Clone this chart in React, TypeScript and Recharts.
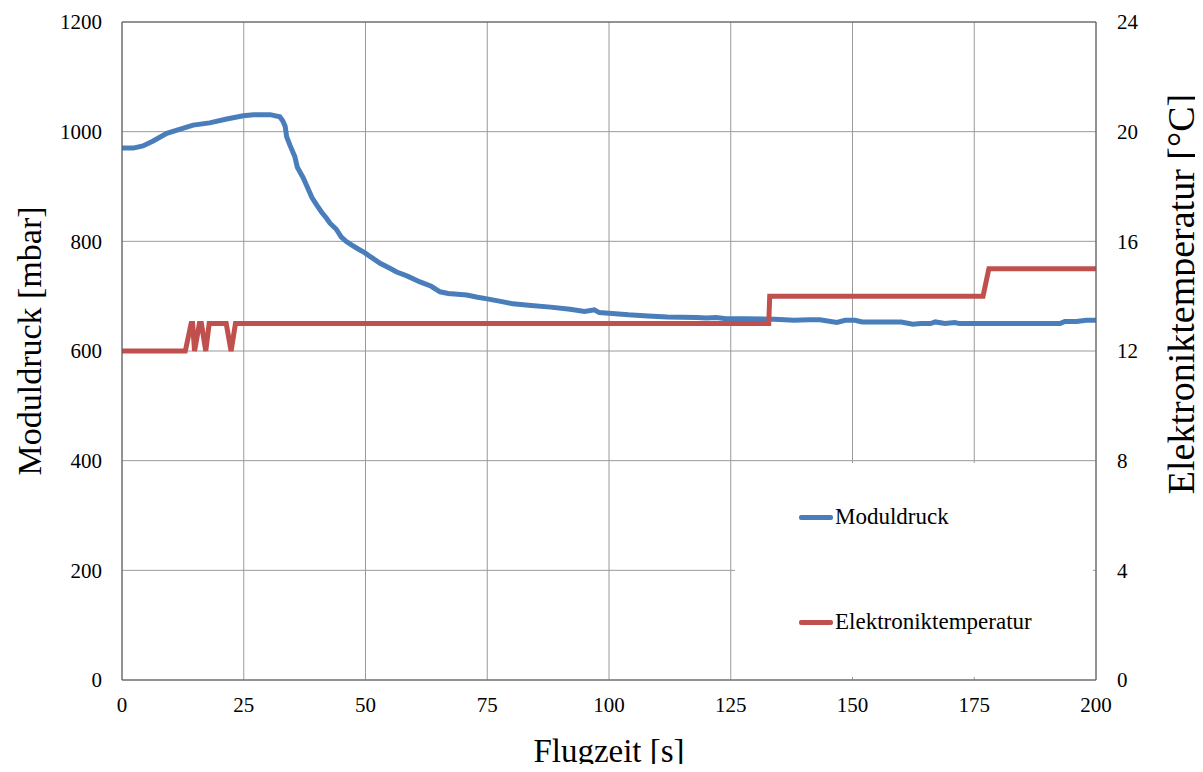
import { ComposedChart, Line, XAxis, YAxis, CartesianGrid, Legend, ReferenceLine, Label } from 'recharts';

// Moduldruck [mbar] over flight time [s]
const druckZeit = [
  0, 2.3, 4.3, 6.4, 9.2, 11.3, 14.6, 18, 21.5, 24.9, 27, 30.4, 32.4, 33, 33.5, 33.8, 34.5, 35.5, 36, 37.2,
  38, 39, 40, 41, 42, 42.7, 44, 45, 46, 47.2, 48.5, 49.9, 51, 53, 55, 56.4, 58.5, 61.2, 63.5, 65.3, 67,
  70.8, 73, 75, 78, 80.3, 84, 88, 92, 95, 97, 98, 100, 104, 108, 112, 118, 120, 122, 124, 128, 134, 138,
  141, 143.3, 146.8, 148.5, 150.5, 152, 160, 162.4, 164, 166, 167, 169, 171, 172, 180, 186, 192.6, 193.6,
  196, 198, 200,
];
const druckWerte = [
  970, 970, 974, 983, 997, 1003, 1012, 1016, 1023, 1029, 1031, 1031, 1027, 1020, 1010, 991, 975, 954, 935, 916,
  900, 880, 866, 853, 842, 833, 822, 808, 800, 793, 786, 779, 772, 760, 751, 744, 737, 726, 718, 708, 705,
  702, 698, 695, 690, 686, 683, 680, 676, 672, 675, 670, 669, 666, 664, 662, 661, 660, 661, 659, 659, 658, 656,
  657, 657, 652, 656, 656, 653, 653, 649, 650, 650, 653, 650, 652, 650, 650, 650, 650, 654,
  654, 656, 656,
];

// Elektroniktemperatur [°C]
const tempZeit = [0, 13.0, 14.2, 14.5, 14.9, 15.9, 16.3, 17.2, 17.9, 21.4, 22.4, 23.3, 132.8, 133.0, 176.8, 178.0, 200];
const tempWerte = [12, 12, 13, 13, 12, 13, 13, 12, 13, 13, 12, 13, 13, 14, 14, 15, 15];

const xTicks = [0, 25, 50, 75, 100, 125, 150, 175, 200];
const druckTicks = [0, 200, 400, 600, 800, 1000, 1200];
const tempTicks = [0, 4, 8, 12, 16, 20, 24];

const druckData = druckZeit.map((t, i) => ({ t, druck: druckWerte[i] }));
const tempData = tempZeit.map((t, i) => ({ t, temp: tempWerte[i] }));

const BLUE = '#4A7EBB';
const RED = '#C0504D';
const FRAME = '#595959';
const GRID = '#9a9a9a';
const FONT = 'Liberation Serif, Times New Roman, serif';

// tick renderer so the serif font really gets applied
const makeTick = (anchor: 'start' | 'middle' | 'end', dy: string) => (props: any) => {
  const { x, y, payload } = props;
  return (
    <g>
      <text
        x={x}
        y={y}
        dy={dy}
        textAnchor={anchor}
        fontFamily="Liberation Serif"
        fontSize={21}
        fill="#000"
        style={{ fontFamily: 'Liberation Serif', fontSize: 21 }}
      >
        {String(payload.value)}
      </text>
    </g>
  );
};

function LegendBox() {
  const items = [
    { name: 'Moduldruck', color: BLUE, top: 54 },
    { name: 'Elektroniktemperatur', color: RED, top: 159 },
  ];
  return (
    <div style={{ position: 'relative', width: '100%', height: '100%', background: '#fff' }}>
      {items.map(it => (
        <div
          key={it.name}
          style={{ position: 'absolute', left: 64, top: it.top - 15, height: 30, display: 'flex', alignItems: 'center' }}
        >
          <span style={{ display: 'inline-block', width: 34, height: 5, borderRadius: 2, background: it.color }} />
          <span style={{ fontFamily: FONT, fontSize: 23, color: '#000', marginLeft: 2 }}>{it.name}</span>
        </div>
      ))}
    </div>
  );
}

const yTitle = (text: string, cx: number, cy: number, size: number) => (
  <text
    x={cx}
    y={cy}
    transform={`rotate(-90 ${cx} ${cy})`}
    textAnchor="middle"
    dominantBaseline="central"
    style={{ fontFamily: FONT, fontSize: size, fill: '#000' }}
  >
    {text}
  </text>
);

export default function App() {
  return (
    <div style={{ margin: -8, width: 1203, height: 772, fontFamily: FONT }}>
      <ComposedChart
        width={1203}
        height={772}
        margin={{ top: 22, right: 27, left: 42, bottom: 0 }}
        style={{ fontFamily: FONT }}
      >
        <CartesianGrid stroke={GRID} yAxisId="left" />
        <XAxis
          dataKey="t"
          type="number"
          domain={[0, 200]}
          ticks={xTicks}
          allowDataOverflow
          height={92}
          tickSize={0}
          tickMargin={17}
          tick={makeTick('middle', '0.71em')}
          axisLine={{ stroke: FRAME }}
          tickLine={false}
        >
          <Label
            value="Flugzeit [s]"
            position="insideBottom"
            offset={10}
            style={{ fontFamily: FONT, fontSize: 33, fill: '#000' }}
          />
        </XAxis>
        <YAxis
          yAxisId="left"
          domain={[0, 1200]}
          ticks={druckTicks}
          width={80}
          tickSize={0}
          tickMargin={20}
          tick={makeTick('end', '0.355em')}
          axisLine={{ stroke: FRAME }}
          tickLine={false}
        >
          <Label content={() => yTitle('Moduldruck [mbar]', 29, 341, 34)} />
        </YAxis>
        <YAxis
          yAxisId="right"
          orientation="right"
          domain={[0, 24]}
          ticks={tempTicks}
          width={80}
          tickSize={0}
          tickMargin={21}
          tick={makeTick('start', '0.355em')}
          axisLine={{ stroke: FRAME }}
          tickLine={false}
        >
          <Label content={() => yTitle('Elektroniktemperatur [°C]', 1181, 294, 38)} />
        </YAxis>
        <ReferenceLine yAxisId="left" y={1200} stroke={FRAME} />
        <Legend
          layout="vertical"
          align="center"
          verticalAlign="middle"
          content={() => <LegendBox />}
          wrapperStyle={{ left: 735, top: 463, width: 358, height: 214, bottom: 'auto', right: 'auto' }}
        />
        <Line
          yAxisId="left"
          data={druckData}
          dataKey="druck"
          name="Moduldruck"
          type="linear"
          stroke={BLUE}
          strokeWidth={5}
          dot={false}
          isAnimationActive={false}
        />
        <Line
          yAxisId="right"
          data={tempData}
          dataKey="temp"
          name="Elektroniktemperatur"
          type="linear"
          stroke={RED}
          strokeWidth={5}
          dot={false}
          isAnimationActive={false}
        />
      </ComposedChart>
    </div>
  );
}
